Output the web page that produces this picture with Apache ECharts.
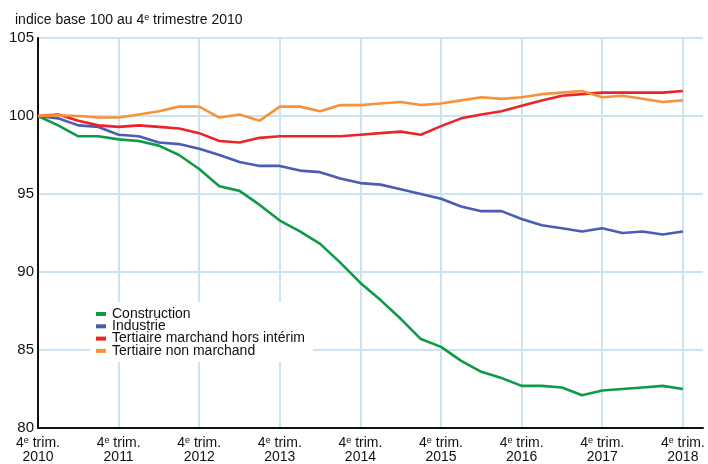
<!DOCTYPE html>
<html>
<head>
<meta charset="utf-8">
<script src="https://cdn.jsdelivr.net/npm/echarts@6/dist/echarts.min.js"></script>
<style>
html,body{margin:0;padding:0;background:#fff;}
#chart{width:708px;height:464px;}
</style>
</head>
<body>
<div id="chart"></div>
<script>
// Quarters from Q4 2010 to Q4 2018 (plus one empty slot on the right of the plot)
const quarters = ['T4 2010','T1 2011','T2 2011','T3 2011','T4 2011','T1 2012','T2 2012','T3 2012','T4 2012',
  'T1 2013','T2 2013','T3 2013','T4 2013','T1 2014','T2 2014','T3 2014','T4 2014',
  'T1 2015','T2 2015','T3 2015','T4 2015','T1 2016','T2 2016','T3 2016','T4 2016',
  'T1 2017','T2 2017','T3 2017','T4 2017','T1 2018','T2 2018','T3 2018','T4 2018','pad'];
const yearLabels = ['2010','2011','2012','2013','2014','2015','2016','2017','2018'];

const construction = [100,99.4,98.7,98.7,98.5,98.4,98.1,97.5,96.6,95.5,95.2,94.3,93.3,92.6,91.8,90.6,89.3,
  88.2,87.0,85.7,85.2,84.3,83.6,83.2,82.7,82.7,82.6,82.1,82.4,82.5,82.6,82.7,82.5];
const industrie = [100,99.85,99.4,99.3,98.8,98.7,98.3,98.2,97.9,97.5,97.05,96.8,96.8,96.5,96.4,96.0,95.7,
  95.6,95.3,95.0,94.7,94.2,93.9,93.9,93.4,93.0,92.8,92.6,92.8,92.5,92.6,92.4,92.6];
const tertiaireMarchand = [100,100.1,99.7,99.4,99.3,99.4,99.3,99.2,98.9,98.4,98.3,98.6,98.7,98.7,98.7,98.7,98.8,
  98.9,99.0,98.8,99.35,99.85,100.1,100.3,100.65,101.0,101.3,101.4,101.5,101.5,101.5,101.5,101.6];
const tertiaireNonMarchand = [100,100.05,100.0,99.9,99.9,100.1,100.3,100.6,100.6,99.9,100.1,99.7,100.6,100.6,100.3,100.7,100.7,
  100.8,100.9,100.7,100.8,101.0,101.2,101.1,101.2,101.4,101.5,101.6,101.2,101.3,101.1,100.9,101.0];

const seriesNames = ['Construction','Industrie','Tertiaire marchand hors intérim','Tertiaire non marchand'];
const seriesColors = ['#0f9a48','#4a5cb3','#ec2428','#f8923a'];
const seriesData = [construction, industrie, tertiaireMarchand, tertiaireNonMarchand];

const FONT = '"Liberation Sans", Arial, Helvetica, sans-serif';
const chart = echarts.init(document.getElementById('chart'), null, {renderer:'canvas'});

const supRich = {
  a: {fontFamily: FONT, fontSize: 14, fontWeight: 'normal', color: '#111', lineHeight: 14},
  s: {fontFamily: FONT, fontSize: 9, fontWeight: 'normal', color: '#111', lineHeight: 14, verticalAlign: 'top'}
};

const option = {
  animation: false,
  backgroundColor: '#ffffff',
  title: {
    text: '{a|indice base 100 au 4}{s|e}{a| trimestre 2010}',
    left: 15, top: 13, padding: 0,
    textStyle: {fontWeight: 'normal', fontFamily: FONT, fontSize: 14, rich: supRich}
  },
  legend: {
    orient: 'vertical',
    left: 90, top: 302,
    padding: [5, 8, 4, 6],
    backgroundColor: '#ffffff',
    itemWidth: 10, itemHeight: 4, itemGap: -1.7,
    icon: 'rect',
    selectedMode: false,
    textStyle: {fontFamily: FONT, fontSize: 14, color: '#111', padding: [0,0,0,1]},
    data: seriesNames
  },
  grid: {left: 38, right: 5, top: 38, bottom: 35, containLabel: false},
  xAxis: {
    type: 'category',
    data: quarters,
    boundaryGap: false,
    axisLine: {show: true, lineStyle: {color: '#111', width: 2}},
    axisTick: {show: false},
    splitLine: {show: true, interval: (i) => i % 4 === 0 && i < 33, lineStyle: {color: '#cbe4f1', width: 2}},
    axisLabel: {
      interval: (i) => i % 4 === 0 && i < 33,
      margin: 8,
      formatter: (v, i) => (i % 4 === 0 && i < 33) ? '{a|4}{s|e}{a| trim.}\n{a|' + yearLabels[i / 4] + '}' : '',
      rich: supRich
    }
  },
  yAxis: {
    type: 'value',
    min: 80, max: 105, interval: 5,
    axisLine: {show: true, lineStyle: {color: '#111', width: 2}},
    axisTick: {show: false},
    axisLabel: {fontFamily: FONT, fontSize: 15, color: '#111', margin: 4},
    splitLine: {show: true, lineStyle: {color: '#cbe4f1', width: 2}}
  },
  series: seriesNames.map((n, k) => ({
    name: n,
    type: 'line',
    data: seriesData[k],
    symbol: 'none',
    color: seriesColors[k],
    lineStyle: {width: 2.6, color: seriesColors[k]},
    z: 3 + k
  }))
};
chart.setOption(option);
</script>
</body>
</html>
